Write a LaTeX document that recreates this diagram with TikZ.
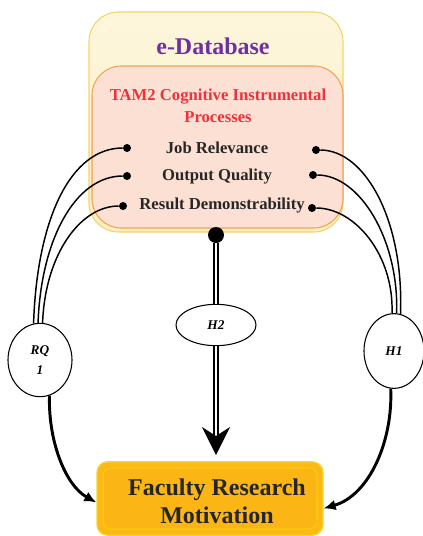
\documentclass[tikz,border=0pt]{standalone}
\usepackage{fontspec}
\setmainfont{Liberation Serif}
\usetikzlibrary{arrows.meta,shapes.geometric}
\definecolor{dbyellow}{HTML}{FBEFC0}
\definecolor{dbborder}{HTML}{F3D46A}
\definecolor{tampink}{HTML}{FCE0D3}
\definecolor{tamborder}{HTML}{F2A256}
\definecolor{dbpurple}{HTML}{7030A0}
\definecolor{tamred}{HTML}{F0303A}
\definecolor{itemgray}{HTML}{262626}
\definecolor{frmgold}{HTML}{FBB916}
\definecolor{frmborder}{HTML}{F8D232}

\tikzset{
  item/.style={font=\fontsize{12.5}{14}\selectfont\bfseries, text=itemgray},
  hyp/.style={draw, ellipse, line width=0.8pt, fill=white, inner sep=0pt,
    font=\fontsize{10}{15}\selectfont\bfseries\itshape, align=center},
  pin/.style={circle, fill=black, inner sep=0pt, minimum size=6pt},
  link/.style={line width=1.1pt},
  flow/.style={line width=2.2pt, -{Latex[length=9pt,width=8pt]}},
}

\begin{document}
\begin{tikzpicture}[x=0.75pt,y=-0.75pt]
%%%%% START %%%%%
\useasboundingbox (0,0) rectangle (422,536);

% e-Database box
\draw[top color=dbyellow!55!white, bottom color=dbyellow, draw=dbborder, line width=0.8pt, rounded corners=22pt] (89,12) rectangle (343,232);
\node[font=\fontsize{18}{20}\selectfont\bfseries, text=dbpurple] (db) at (213,46) {e-Database};

% TAM2 box
\draw[fill=tampink, draw=tamborder, line width=0.8pt, rounded corners=22pt] (92,66) rectangle (343,228);
\node[font=\fontsize{12.5}{16.5}\selectfont\bfseries, text=tamred, align=center] (tam) at (218,106) {TAM2 Cognitive Instrumental\\Processes};

\node[item] (jl) at (217,148) {Job Relevance};
\node[item] (oq) at (217,177) {Output Quality};
\node[item] (rd) at (222,206) {Result Demonstrability};

\node[pin] (jl-l) at (127,148) {};
\node[pin] (oq-l) at (127,176) {};
\node[pin] (rd-l) at (123,206) {};
\node[pin] (jl-r) at (316,150) {};
\node[pin] (oq-r) at (313,175) {};
\node[pin] (rd-r) at (312,208) {};
\node[pin, minimum size=12pt] (src) at (216,235) {};

% hypotheses
\node[hyp, minimum width=48pt, minimum height=55pt] (rq) at (40,360) {RQ\\1};
\node[hyp, minimum width=60pt, minimum height=31pt] (h2) at (216,325) {H2};
\node[hyp, minimum width=45pt, minimum height=56pt] (h1) at (394,351) {H1};

% Faculty Research Motivation box
\node[draw=frmborder, fill=frmgold, line width=1pt, rounded corners=8pt, minimum width=169.5pt, minimum height=55pt] (frm) at (210,498.5) {};
\draw[draw=frmgold!80!yellow, fill=frmgold!95!orange, line width=0.8pt, rounded corners=6pt] (103,468) rectangle (317,529);
\node[font=\fontsize{18}{21}\selectfont\bfseries, text=itemgray, align=center] (frmtext) at (217,501) {Faculty Research\\Motivation};

% links to RQ1
\draw[link] (jl-l) .. controls (70,148) and (37,220) .. (rq.100);
\draw[link] (oq-l) .. controls (75,176) and (41,240) .. (rq.93);
\draw[link] (rd-l) .. controls (80,206) and (45,255) .. (rq.86);

% links to H1
\draw[link] (jl-r) .. controls (365,150) and (404,220) .. (h1.80);
\draw[link] (oq-r) .. controls (360,175) and (399,240) .. (h1.86);
\draw[link] (rd-r) .. controls (355,208) and (394,255) .. (h1.93);

% H2 double line
\coordinate (h2tip) at (216,440);
\draw[double, double distance=2.2pt, line width=1.1pt] (src) -- (h2);
\draw[double, double distance=2.2pt, line width=1.1pt] (h2) -- (h2tip);
\fill (216,455) -- (202,427) -- (216,436) -- (230,427) -- cycle;

% arrows to Faculty Research Motivation
\draw[flow] (rq.285) .. controls (48,440) and (65,485) .. (frm.182);
\draw[flow] (h1.265) .. controls (393,440) and (370,495) .. (frm.-5);
%%%%% END %%%%%
\end{tikzpicture}
\end{document}
